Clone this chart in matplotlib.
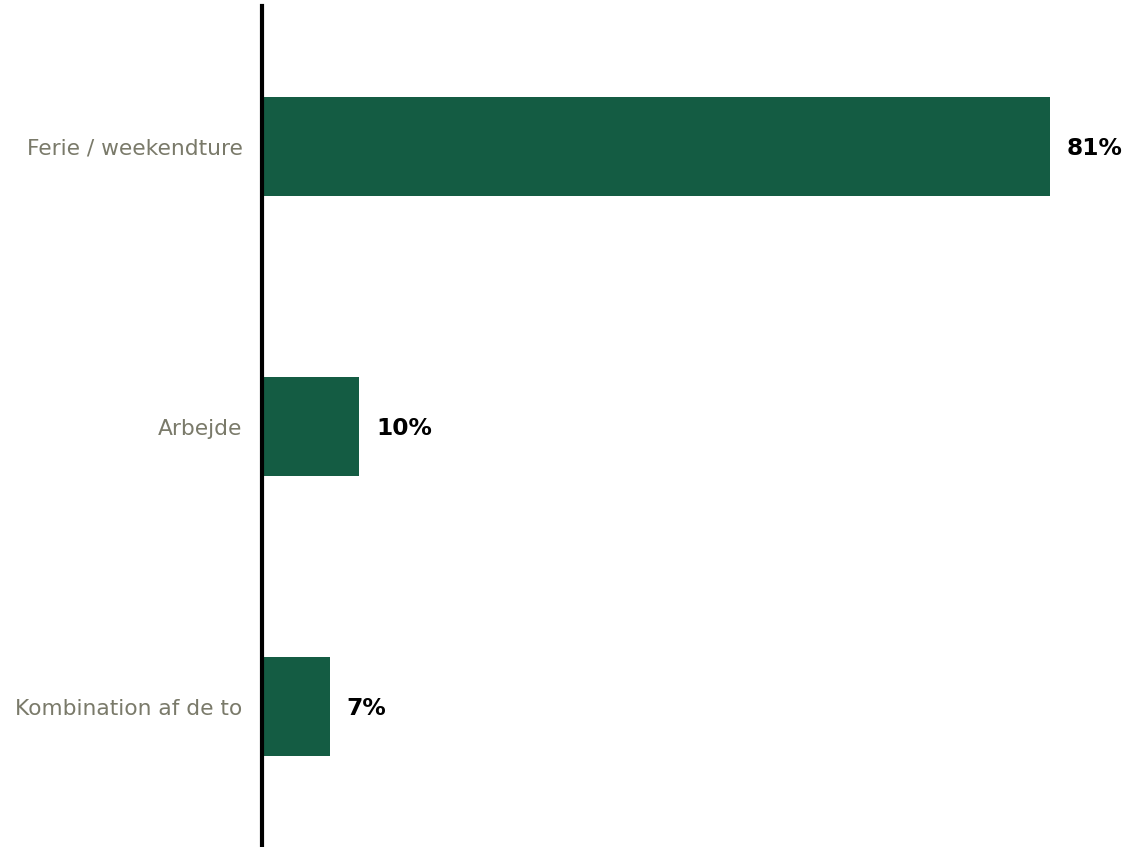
import matplotlib
matplotlib.use("Agg")
import matplotlib.pyplot as plt

categories = ["Ferie / weekendture", "Arbejde", "Kombination af de to"]
values = [81, 10, 7]
value_labels = ["81%", "10%", "7%"]

bar_color = "#145c43"
label_color = "#7a7a6a"

fig = plt.figure(figsize=(11.47, 8.47), dpi=100)
ax = fig.add_axes([262 / 1147, 0, 885 / 1147, 841 / 847])

y = list(range(len(categories)))
bars = ax.barh(y, values, height=0.353, color=bar_color, zorder=2)

ax.set_xlim(0, 91)
ax.set_ylim(2.5, -0.5)

ax.set_yticks(y)
ax.set_yticklabels(categories, fontsize=15.7, color=label_color, family="DejaVu Sans")
ax.tick_params(axis="y", length=0, pad=14)
ax.set_xticks([])

for s in ["top", "right", "bottom"]:
    ax.spines[s].set_visible(False)
ax.spines["left"].set_linewidth(3)
ax.spines["left"].set_color("black")
ax.spines["left"].set_zorder(3)

for bar, txt in zip(bars, value_labels):
    ax.annotate(txt, (bar.get_width(), bar.get_y() + bar.get_height() / 2),
                xytext=(12, -1.5), textcoords="offset points",
                va="center", ha="left", fontsize=16.8, fontweight="bold",
                color="black")

fig.savefig("out.png", dpi=100, facecolor="white")
